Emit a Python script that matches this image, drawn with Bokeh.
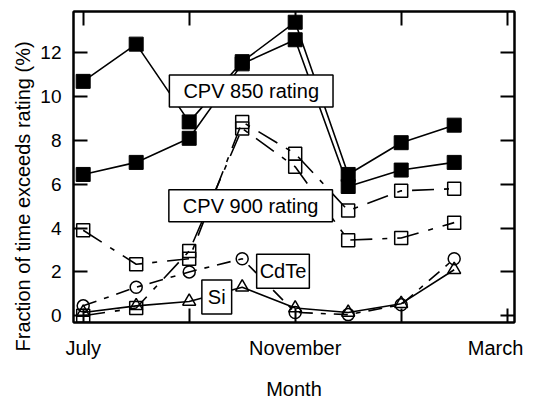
from bokeh.plotting import figure
from bokeh.models import FixedTicker, LinearAxis, Range1d, Label, Title
from bokeh.embed import file_html
from bokeh.resources import INLINE

# months counted from July (0) to March (8)
months = [0, 1, 2, 3, 4, 5, 6, 7]
month_label_ticks = [0, 4, 8]
month_plain_ticks = [2, 6]
month_tick_labels = {0: "July", 4: "November", 8: "March\u00a0\u00a0"}
y_ticks = [0, 2, 4, 6, 8, 10, 12]
x_title = "Month"
y_title = "Fraction of time exceeds rating (%)"

cpv850_a = [10.7, 12.4, 8.85, 11.6, 13.4, 6.45, 7.9, 8.7]
cpv850_b = [6.45, 7.0, 8.1, 11.5, 12.6, 5.9, 6.65, 7.0]
cpv900_a = [3.9, 2.35, 2.6, 8.85, 7.4, 4.8, 5.7, 5.8]
cpv900_b = [0.0, 0.35, 2.95, 8.55, 6.8, 3.45, 3.55, 4.25]
cdte = [0.45, 1.3, 2.0, 2.6, 0.15, 0.05, 0.5, 2.6]
si = [0.15, 0.45, 0.65, 1.3, 0.35, 0.15, 0.55, 2.1]

FONT = "Liberation Sans"

p = figure(width=534, height=402, output_backend="svg", toolbar_location=None,
           x_range=Range1d(-0.183, 8.138), y_range=Range1d(-0.31, 13.89),
           min_border_left=73, min_border_right=20, min_border_top=11, min_border_bottom=75,
           x_axis_label=x_title)
p.grid.visible = False
p.outline_line_color = "black"
p.outline_line_width = 2
p.background_fill_color = "white"
p.border_fill_color = "white"

bottom_ax = p.below[0]
left_ax = p.left[0]

bottom_ax.ticker = FixedTicker(ticks=month_label_ticks, minor_ticks=month_plain_ticks)
bottom_ax.major_label_overrides = month_tick_labels
left_ax.ticker = FixedTicker(ticks=y_ticks)

top_ax = LinearAxis(ticker=FixedTicker(ticks=[], minor_ticks=month_label_ticks + month_plain_ticks),
                    major_label_standoff=0)
right_ax = LinearAxis(ticker=FixedTicker(ticks=[], minor_ticks=y_ticks), major_label_standoff=0)
p.add_layout(top_ax, "above")
p.add_layout(right_ax, "right")

for ax in [bottom_ax, left_ax, top_ax, right_ax]:
    ax.major_tick_in = 14
    ax.major_tick_out = 0
    ax.minor_tick_in = 14
    ax.minor_tick_out = 0
    ax.major_tick_line_width = 2
    ax.minor_tick_line_width = 2
    ax.major_tick_line_color = "black"
    ax.minor_tick_line_color = "black"
    ax.axis_line_width = 2
    ax.axis_line_color = "black"
    ax.major_label_text_font = FONT
    ax.major_label_text_color = "black"
    ax.axis_label_text_font = FONT
    ax.axis_label_text_font_style = "normal"
    ax.axis_label_text_color = "black"
    ax.axis_label_text_font_size = "20px"

bottom_ax.major_label_text_font_size = "20px"
bottom_ax.major_label_standoff = 14
bottom_ax.axis_label_standoff = 16
left_ax.major_label_text_font_size = "19px"
left_ax.major_label_standoff = 12

# y-axis title, set lower than the frame centre as in the original
p.add_layout(Title(text=y_title, align="left", offset=-29, standoff=8,
                   text_font=FONT, text_font_size="20px", text_font_style="normal",
                   text_color="black"), "left")

# lines
for s in [cpv850_a, cpv850_b]:
    p.line(months, s, line_color="black", line_width=1.6)
for s in [cpv900_a, cpv900_b]:
    p.line(months, s, line_color="black", line_width=1.6, line_dash="22 10 5 10")
p.line(months, cdte, line_color="black", line_width=1.6, line_dash="14 8 5 8")
p.line(months, si, line_color="black", line_width=1.6)

# markers
for s in [cpv850_a, cpv850_b]:
    p.scatter(months, s, marker="square", size=14, fill_color="black", line_color="black", line_width=1)
for s in [cpv900_a, cpv900_b]:
    p.scatter(months, s, marker="square", size=13, fill_color=None, line_color="black", line_width=1.5)
p.scatter(months, cdte, marker="circle", size=12, fill_color=None, line_color="black", line_width=1.5)
p.scatter(months, si, marker="triangle", size=13, fill_color=None, line_color="black", line_width=1.5)


def box(text, x, y, ph, pv):
    return Label(x=x, y=y, text=text, text_align="center", text_baseline="middle",
                 text_font=FONT, text_font_size="20px", text_color="black",
                 border_line_color="black", border_line_width=1.5,
                 background_fill_color="white", padding=(ph, pv))


p.add_layout(box("CPV 850 rating", 3.17, 10.26, 14, 5))
p.add_layout(box("CPV 900 rating", 3.16, 5.02, 14, 5))
p.add_layout(box("CdTe", 3.77, 2.03, 3, 6))
p.add_layout(box("Si", 2.52, 0.86, 6, 6))

open("out.html", "w").write(file_html(p, INLINE))
